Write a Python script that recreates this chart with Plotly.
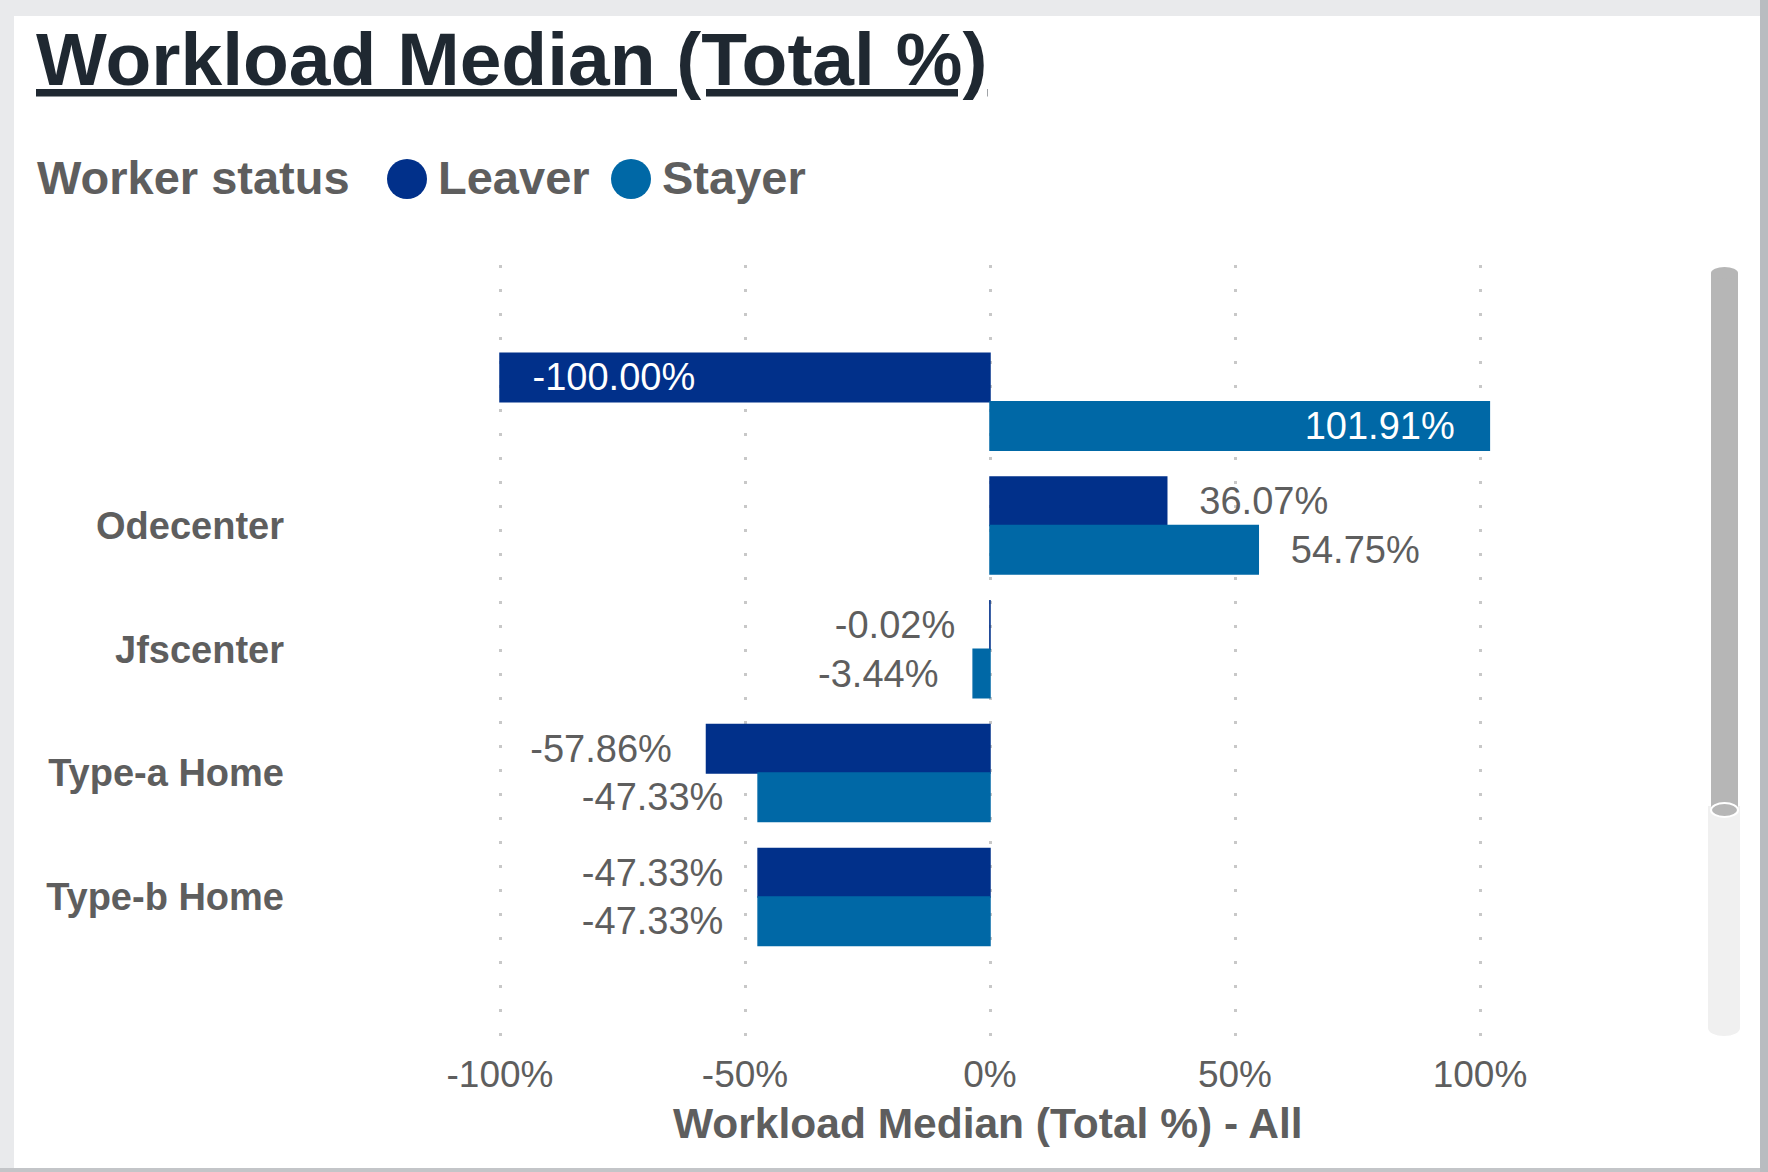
import plotly.graph_objects as go

# Workload median by site, split by worker status
categories = ["", "Odecenter", "Jfscenter", "Type-a Home", "Type-b Home"]
leaver = [-100.00, 36.07, -0.02, -57.86, -47.33]
stayer = [101.91, 54.75, -3.44, -47.33, -47.33]
x_ticks = [-100, -50, 0, 50, 100]
x_tick_labels = ["-100%", "-50%", "0%", "50%", "100%"]

LEAVER_COLOR = "#01308A"
STAYER_COLOR = "#0068A6"
LABEL_GRAY = "#5E5E5E"
TITLE_COLOR = "#1F2831"
FONT = "Liberation Sans, Arial, sans-serif"

W, H = 1768, 1172
# plot area in pixels
L, R, T, B = 300, 1500, 265, 1037


def px(x):
    return (x - L) / (R - L)


def py(y):
    return (B - y) / (B - T)


NB = "\u00a0"
EN = "\u2002"


def label(v, inside):
    s = f"{v:.2f}%"
    if inside:
        return (EN + NB + s) if v < 0 else (s + NB * 3)
    return (s + NB * 3) if v < 0 else (EN + NB + s)


# first row carries labels inside the bars, the rest outside
positions = ["inside", "outside", "outside", "outside", "outside"]

fig = go.Figure()
for name, vals, color in [("Leaver", leaver, LEAVER_COLOR), ("Stayer", stayer, STAYER_COLOR)]:
    fig.add_trace(go.Bar(
        name=name,
        orientation="h",
        y=list(range(len(categories))),
        x=vals,
        marker=dict(color=color, line=dict(color=color, width=1.5)),
        text=[label(v, p == "inside") for v, p in zip(vals, positions)],
        textposition=positions,
        insidetextanchor="end",
        insidetextfont=dict(family=FONT, size=38, color="white"),
        outsidetextfont=dict(family=FONT, size=38, color=LABEL_GRAY),
        constraintext="none",
        cliponaxis=False,
        showlegend=False,
        hoverinfo="skip",
    ))

shapes = [
    # card
    dict(type="rect", xref="paper", yref="paper", x0=px(14), x1=px(1760), y0=py(1168), y1=py(16),
         fillcolor="white", line=dict(width=0), layer="below"),
    # right and bottom edges
    dict(type="rect", xref="paper", yref="paper", x0=px(1760), x1=px(1768), y0=py(1172), y1=py(0),
         fillcolor="#B9BCC0", line=dict(width=0), layer="below"),
    dict(type="rect", xref="paper", yref="paper", x0=px(0), x1=px(1760), y0=py(1172), y1=py(1168),
         fillcolor="#C3C5C8", line=dict(width=0), layer="below"),
    # scrollbar track
    dict(type="rect", xref="paper", yref="paper", x0=px(1708), x1=px(1740), y0=py(1028), y1=py(806),
         fillcolor="#F0F0F0", line=dict(width=0), layer="above"),
    dict(type="circle", xref="paper", yref="paper", x0=px(1708), x1=px(1740), y0=py(1036), y1=py(1020),
         fillcolor="#F0F0F0", line=dict(width=0), layer="above"),
    # scrollbar thumb
    dict(type="rect", xref="paper", yref="paper", x0=px(1711), x1=px(1738), y0=py(810), y1=py(273),
         fillcolor="#B6B6B6", line=dict(width=0), layer="above"),
    dict(type="circle", xref="paper", yref="paper", x0=px(1711), x1=px(1738), y0=py(279), y1=py(267),
         fillcolor="#B6B6B6", line=dict(width=0), layer="above"),
    dict(type="circle", xref="paper", yref="paper", x0=px(1711), x1=px(1738), y0=py(817), y1=py(803),
         fillcolor="#B6B6B6", line=dict(color="white", width=2), layer="above"),
    # legend markers
    dict(type="circle", xref="paper", yref="paper", x0=px(387), x1=px(427), y0=py(199), y1=py(159),
         fillcolor=LEAVER_COLOR, line=dict(width=0), layer="above"),
    dict(type="circle", xref="paper", yref="paper", x0=px(611), x1=px(651), y0=py(199), y1=py(159),
         fillcolor=STAYER_COLOR, line=dict(width=0), layer="above"),
]


def note(text, x, y, size, color, bold=True, xanchor="left"):
    return dict(text=text, x=px(x), y=py(y), xref="paper", yref="paper",
                xanchor=xanchor, yanchor="middle", showarrow=False,
                font=dict(family=FONT, size=size, color=color, weight="bold" if bold else "normal"))


annotations = [
    note("<u>Workload Median (Total %)</u>", 34, 59, 75, TITLE_COLOR),
    note("Worker status", 35, 177, 47, LABEL_GRAY),
    note("Leaver", 436, 177, 47, LABEL_GRAY),
    note("Stayer", 660, 177, 47, LABEL_GRAY),
    note("Workload Median (Total %) - All", 988, 1123, 42.5, LABEL_GRAY, xanchor="center"),
]

px_per_unit = 4.9
x_left = (L - 990) / px_per_unit
x_right = (R - 990) / px_per_unit
row_px = 123.8
y_top = (T - 401.7) / row_px
y_bottom = (B - 401.7) / row_px

fig.update_layout(
    width=W, height=H,
    margin=dict(l=L, r=W - R, t=T, b=H - B, pad=0),
    paper_bgcolor="#E9EAEC",
    plot_bgcolor="rgba(0,0,0,0)",
    barmode="group",
    bargap=0.2165,
    bargroupgap=0,
    hovermode=False,
    shapes=shapes,
    annotations=annotations,
    font=dict(family=FONT),
    xaxis=dict(
        range=[x_left, x_right],
        tickvals=x_ticks,
        ticktext=x_tick_labels,
        showgrid=True,
        gridcolor="#C8C8C8",
        gridwidth=3,
        griddash="3px,21px",
        zeroline=False,
        showline=False,
        ticks="",
        ticklabelstandoff=12,
        tickfont=dict(family=FONT, size=37, color=LABEL_GRAY),
        fixedrange=True,
    ),
    yaxis=dict(
        range=[y_bottom, y_top],
        tickvals=list(range(len(categories))),
        ticktext=categories,
        showgrid=False,
        zeroline=False,
        showline=False,
        ticks="",
        ticklabelstandoff=15,
        tickfont=dict(family=FONT, size=38, color=LABEL_GRAY, weight="bold"),
        fixedrange=True,
    ),
)

fig.write_html("out.html", config={"displayModeBar": False})
